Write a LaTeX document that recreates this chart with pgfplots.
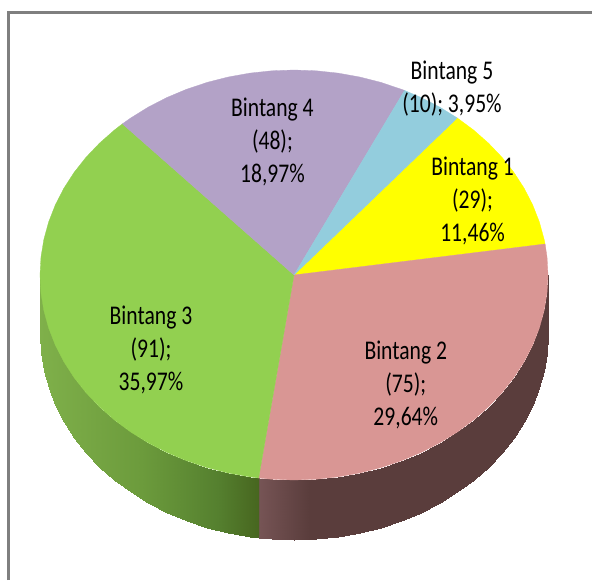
\documentclass[border=0pt]{standalone}
\usepackage{fontspec}
\setmainfont[FakeStretch=0.80]{Carlito}
\usepackage{pgfplots}
\pgfplotsset{compat=1.18}

\definecolor{binA}{HTML}{FFFF00}
\definecolor{binB}{HTML}{D99694}
\definecolor{binC}{HTML}{92D050}
\definecolor{binD}{HTML}{B3A2C7}
\definecolor{binE}{HTML}{93CDDD}
\definecolor{frameg}{HTML}{7F7F7F}

\pgfplotsset{
  colormap={sides}{
    rgb255(0)=(127,176,74) rgb255(40)=(108,155,60) rgb255(70)=(85,128,47) rgb255(86)=(71,102,31)
    rgb255(86.1)=(118,84,85) rgb255(106)=(90,61,60) rgb255(200)=(90,61,60)
  },
}
\tikzset{
  slice/.style={fill=#1, draw=#1, line width=0.3pt},
  lab/.style={align=center, font=\fontsize{27}{33}\selectfont, text=black},
}

\begin{document}
\begin{tikzpicture}
\begin{axis}[
    scale only axis, width=592pt, height=580pt,
    xmin=-1.1575, xmax=1.1732, ymin=-1.4878, ymax=1.3415,
    hide axis, clip=true,
    point meta min=-1, point meta max=1,
    colormap name=sides,
  ]
  \path (rel axis cs:0,0) rectangle (rel axis cs:1,1);

  % frame
  \addplot[frameg, line width=3pt] coordinates {(-1.126,-1.4878) (-1.126,1.2829) (1.1732,1.2829)};

  % side wall, Bintang 3
  \addplot[surf, shader=interp, mesh/cols=2, point meta=x] table[row sep=\\] {
    x y\\
    -.1392 -.9903\\ -.1392 -1.2833\\
    -.1736 -.9848\\ -.1736 -1.2778\\
    -.2588 -.9659\\ -.2588 -1.2589\\
    -.3420 -.9397\\ -.3420 -1.2327\\
    -.4226 -.9063\\ -.4226 -1.1993\\
    -.5000 -.8660\\ -.5000 -1.1590\\
    -.5736 -.8192\\ -.5736 -1.1122\\
    -.6428 -.7660\\ -.6428 -1.0590\\
    -.7071 -.7071\\ -.7071 -1.0001\\
    -.7660 -.6428\\ -.7660 -.9358\\
    -.8192 -.5736\\ -.8192 -.8666\\
    -.8660 -.5000\\ -.8660 -.7930\\
    -.9063 -.4226\\ -.9063 -.7156\\
    -.9397 -.3420\\ -.9397 -.6350\\
    -.9659 -.2588\\ -.9659 -.5518\\
    -.9848 -.1736\\ -.9848 -.4666\\
    -.9962 -.0872\\ -.9962 -.3802\\
    -1 0\\ -1 -.2930\\
  };
  % side wall, Bintang 2
  \addplot[surf, shader=interp, mesh/cols=2, point meta=x] table[row sep=\\] {
    x y\\
    -.1392 -.9903\\ -.1392 -1.2833\\
    -.0872 -.9962\\ -.0872 -1.2892\\
    0 -1\\ 0 -1.2930\\
    .0872 -.9962\\ .0872 -1.2892\\
    .1736 -.9848\\ .1736 -1.2778\\
    .2588 -.9659\\ .2588 -1.2589\\
    .3420 -.9397\\ .3420 -1.2327\\
    .4226 -.9063\\ .4226 -1.1993\\
    .5000 -.8660\\ .5000 -1.1590\\
    .5736 -.8192\\ .5736 -1.1122\\
    .6428 -.7660\\ .6428 -1.0590\\
    .7071 -.7071\\ .7071 -1.0001\\
    .7660 -.6428\\ .7660 -.9358\\
    .8192 -.5736\\ .8192 -.8666\\
    .8660 -.5000\\ .8660 -.7930\\
    .9063 -.4226\\ .9063 -.7156\\
    .9397 -.3420\\ .9397 -.6350\\
    .9659 -.2588\\ .9659 -.5518\\
    .9848 -.1736\\ .9848 -.4666\\
    .9962 -.0872\\ .9962 -.3802\\
    1 0\\ 1 -.2930\\
  };

  % Bintang 1: 29
  \addplot[slice=binA] coordinates {(0,0) (.6428,.7660) (.7071,.7071) (.7660,.6428) (.8192,.5736)
    (.8660,.5) (.9063,.4226) (.9397,.3420) (.9659,.2588) (.9848,.1736) (.9885,.1513) (0,0)};
  % Bintang 2: 75
  \addplot[slice=binB] coordinates {(0,0) (.9885,.1513) (.9962,.0872) (1,0) (.9962,-.0872) (.9848,-.1736)
    (.9659,-.2588) (.9397,-.3420) (.9063,-.4226) (.8660,-.5) (.8192,-.5736) (.7660,-.6428) (.7071,-.7071)
    (.6428,-.7660) (.5736,-.8192) (.5,-.8660) (.4226,-.9063) (.3420,-.9397) (.2588,-.9659) (.1736,-.9848)
    (.0872,-.9962) (0,-1) (-.0872,-.9962) (-.1392,-.9903) (0,0)};
  % Bintang 3: 91
  \addplot[slice=binC] coordinates {(0,0) (-.1392,-.9903) (-.1736,-.9848) (-.2588,-.9659) (-.3420,-.9397)
    (-.4226,-.9063) (-.5,-.8660) (-.5736,-.8192) (-.6428,-.7660) (-.7071,-.7071) (-.7660,-.6428)
    (-.8192,-.5736) (-.8660,-.5) (-.9063,-.4226) (-.9397,-.3420) (-.9659,-.2588) (-.9848,-.1736)
    (-.9962,-.0872) (-1,0) (-.9962,.0872) (-.9848,.1736) (-.9659,.2588) (-.9397,.3420) (-.9063,.4226)
    (-.8660,.5) (-.8192,.5736) (-.7660,.6428) (-.7071,.7071) (-.6756,.7373) (0,0)};
  % Bintang 4: 48
  \addplot[slice=binD] coordinates {(0,0) (-.6756,.7373) (-.6428,.7660) (-.5736,.8192) (-.5,.8660)
    (-.4226,.9063) (-.3420,.9397) (-.2588,.9659) (-.1736,.9848) (-.0872,.9962) (0,1) (.0872,.9962)
    (.1736,.9848) (.2588,.9659) (.3420,.9397) (.4226,.9063) (.4352,.9003) (0,0)};
  % Bintang 5: 10
  \addplot[slice=binE] coordinates {(0,0) (.4352,.9003) (.5,.8660) (.5736,.8192) (.6428,.7660) (0,0)};

  \node[lab] at (axis cs:.7030,.3610) {Bintang 1\\(29);\\11,46\%};
  \node[lab] at (axis cs:.4400,-.5366) {Bintang 2\\(75);\\29,64\%};
  \node[lab] at (axis cs:-.5630,-.3659) {Bintang 3\\(91);\\35,97\%};
  \node[lab] at (axis cs:-.0850,.6488) {Bintang 4\\(48);\\18,97\%};
  \node[lab] at (axis cs:.6220,.9073) {Bintang 5\\(10); 3,95\%};
\end{axis}
\end{tikzpicture}
\end{document}
